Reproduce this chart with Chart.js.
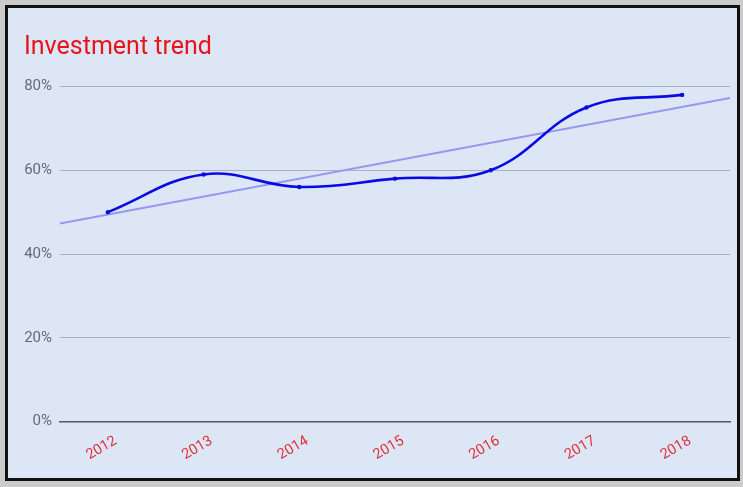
<!DOCTYPE html>
<html>
<head>
<meta charset="utf-8">
<script src="https://cdn.jsdelivr.net/npm/chart.js@4.4.1/dist/chart.umd.min.js"></script>
<style>
  html, body { margin: 0; padding: 0; width: 743px; height: 487px; overflow: hidden; background: #cbcbcb; }
  #frame { position: absolute; left: 5px; top: 5px; width: 729px; height: 470px; border: 3px solid #111; background: #dce6f4; }
  canvas { display: block; }
</style>
</head>
<body>
<div id="frame"><canvas id="chart" width="729" height="470" style="width:729px;height:470px"></canvas></div>
<script>
// Yearly investment share (%)
const years = ['2012', '2013', '2014', '2015', '2016', '2017', '2018'];
const investment = [50, 59, 56, 58, 60, 75, 78];
const yTicks = [0, 20, 40, 60, 80];

// Least-squares trend line over the category indices
function linearFit(vals) {
  const n = vals.length;
  const mx = (n - 1) / 2;
  const my = vals.reduce((a, b) => a + b, 0) / n;
  let num = 0, den = 0;
  vals.forEach((v, i) => { num += (i - mx) * (v - my); den += (i - mx) * (i - mx); });
  const slope = num / den;
  return x => my + slope * (x - mx);
}
const trend = linearFit(investment);
const trendMin = -0.5, trendMax = years.length - 0.5;

Chart.defaults.font.family = 'Roboto, "Noto Sans", Arial, sans-serif';

new Chart(document.getElementById('chart'), {
  type: 'line',
  data: {
    labels: years,
    datasets: [
      {
        label: 'Investment',
        data: investment,
        borderColor: '#0a0ae6',
        backgroundColor: '#0a0ae6',
        borderWidth: 2.6,
        pointRadius: 2.2,
        pointBorderWidth: 0,
        pointHoverRadius: 2.2,
        tension: 0.4,
        fill: false,
        xAxisID: 'x',
        order: 1
      },
      {
        label: 'Trend',
        data: [{ x: trendMin, y: trend(trendMin) }, { x: trendMax, y: trend(trendMax) }],
        borderColor: '#9797ee',
        borderWidth: 2,
        pointRadius: 0,
        fill: false,
        xAxisID: 'xt',
        order: 2
      }
    ]
  },
  options: {
    responsive: false,
    animation: false,
    layout: { padding: { left: 16, right: 7, top: 0, bottom: 0 } },
    plugins: {
      legend: { display: false },
      tooltip: { enabled: false },
      title: {
        display: true,
        text: 'Investment trend',
        align: 'start',
        color: '#e8141c',
        font: { size: 25, weight: 'normal', lineHeight: 1.2 },
        padding: { top: 25, bottom: 23.5 }
      }
    },
    scales: {
      x: {
        type: 'category',
        offset: true,
        grid: { display: false, drawTicks: false },
        border: { display: true, color: '#4d5662', width: 1.5 },
        ticks: {
          color: '#e0303e',
          font: { size: 14.5 },
          minRotation: 30,
          maxRotation: 30,
          labelOffset: 8,
          padding: 11
        },
        afterFit: s => { s.height = 56.5; }
      },
      xt: {
        type: 'linear',
        display: false,
        min: trendMin,
        max: trendMax
      },
      y: {
        min: 0,
        max: 80,
        grid: { color: '#a9b2c0', lineWidth: 1, drawTicks: false },
        border: { display: false },
        ticks: {
          color: '#666b72',
          font: { size: 15 },
          padding: 8,
          callback: v => v + '%'
        },
        afterBuildTicks: s => { s.ticks = yTicks.map(v => ({ value: v })); },
        afterFit: s => { s.width = 36; }
      }
    }
  }
});
</script>
</body>
</html>
